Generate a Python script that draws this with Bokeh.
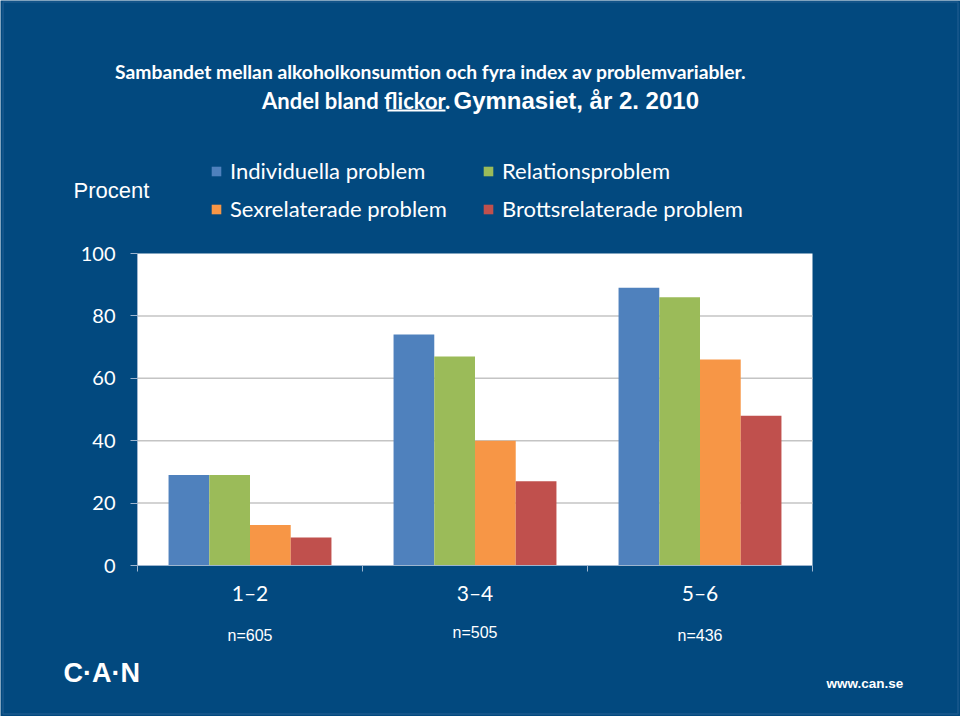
from bokeh.plotting import figure
from bokeh.models import (ColumnDataSource, Range1d, FixedTicker, Label, Legend,
                          LegendItem, BoxAnnotation, LinearAxis)
from bokeh.transform import dodge
from bokeh.embed import file_html
from bokeh.resources import INLINE

# ---- data ----
categories = ["1–2", "3–4", "5–6"]
n_labels = ["n=605", "n=505", "n=436"]
series_names = ["Individuella problem", "Relationsproblem",
                "Sexrelaterade problem", "Brottsrelaterade problem"]
individuella = [29, 74, 89]
relations = [29, 67, 86]
sexrelaterade = [13, 40, 66]
brottsrelaterade = [9, 27, 48]
y_ticks = [0, 20, 40, 60, 80, 100]

# ---- style / layout ----
colors = ["#4f81bd", "#9bbb59", "#f79646", "#c0504d"]
BG = "#02497f"
AXIS = "#9db5cf"
W, H = 960, 716
PL, PR, PT, PB = 137, 812, 253, 565       # white plot area in pixels
ncat = len(categories)
xpx = (PR - PL) / ncat                      # px per category
ypx = (PB - PT) / (y_ticks[-1] - y_ticks[0])

x_range = Range1d(-PL / xpx, (W - PL) / xpx)
y_range = Range1d(-(H - PB) / ypx, y_ticks[-1] + PT / ypx)

centers = [i + 0.5 for i in range(ncat)]
source = ColumnDataSource(dict(x=centers, ind=individuella, rel=relations,
                               sex=sexrelaterade, bro=brottsrelaterade))

p = figure(width=W, height=H, x_range=x_range, y_range=y_range,
           output_backend="svg", toolbar_location=None,
           x_axis_location=None, y_axis_location=None,
           min_border=0, min_border_left=0, min_border_right=0,
           min_border_top=0, min_border_bottom=0)
p.background_fill_color = BG
p.border_fill_color = BG
p.outline_line_color = None
p.xgrid.visible = False
p.ygrid.visible = False

# thin light frame around the slide
p.add_layout(BoxAnnotation(left=2.5, right=W - 2.5, bottom=2.5, top=H - 1.5,
                           left_units="screen", right_units="screen",
                           bottom_units="screen", top_units="screen",
                           fill_alpha=0, line_color="#4f7fae", line_width=1.5,
                           level="underlay"))

# white plot area
p.quad(left=0, right=ncat, bottom=y_ticks[0], top=y_ticks[-1],
       fill_color="white", line_color=None)
# horizontal grid lines at the inner ticks
p.segment(x0=[0] * (len(y_ticks) - 2), x1=[ncat] * (len(y_ticks) - 2),
          y0=y_ticks[1:-1], y1=y_ticks[1:-1], line_color="#c4c4c4", line_width=1.5)

bw = 0.181
fields = ["ind", "rel", "sex", "bro"]
renderers = []
for k, f in enumerate(fields):
    r = p.vbar(x=dodge("x", (k - 1.5) * bw, range=p.x_range), top=f, width=bw,
               source=source, fill_color=colors[k], line_color=None)
    renderers.append(r)

# y axis
yaxis = LinearAxis(fixed_location=0, bounds=(y_ticks[0], y_ticks[-1]),
                   ticker=FixedTicker(ticks=y_ticks, minor_ticks=[]))
yaxis.major_label_text_font = "Lato"
yaxis.major_label_text_font_size = "20px"
yaxis.major_label_text_color = "white"
yaxis.major_tick_out = 7
yaxis.major_tick_in = 0
yaxis.minor_tick_out = 0
yaxis.axis_line_color = AXIS
yaxis.major_tick_line_color = AXIS
yaxis.major_label_standoff = 15
p.add_layout(yaxis, "left")

# x axis (labels at centres, ticks at category boundaries)
xaxis = LinearAxis(fixed_location=y_ticks[0], bounds=(0, ncat),
                   ticker=FixedTicker(ticks=centers, minor_ticks=list(range(ncat + 1))))
xaxis.major_label_overrides = {c: lab for c, lab in zip(centers, categories)}
xaxis.major_label_text_font = "Lato"
xaxis.major_label_text_font_size = "21px"
xaxis.major_label_text_color = "white"
xaxis.major_tick_out = 0
xaxis.major_tick_in = 0
xaxis.minor_tick_out = 6
xaxis.minor_tick_in = 0
xaxis.minor_tick_line_color = AXIS
xaxis.axis_line_color = AXIS
xaxis.major_label_standoff = 8
p.add_layout(xaxis, "below")

# texts (screen px from bottom-left of the canvas)
def lab(text, px, py, font="Lato", size="20px", style="normal", align="left"):
    p.add_layout(Label(x=px, y=H - py, x_units="screen", y_units="screen", text=text,
                       text_font=font, text_font_size=size, text_font_style=style,
                       text_color="white", text_align=align, text_baseline="middle"))

lab("Sambandet mellan alkoholkonsumtion och fyra index av problemvariabler.",
    430, 71, size="19.3px", style="bold", align="center")
lab("Andel bland flickor. ", 455, 100, size="22px", style="bold", align="right")
lab("Gymnasiet, år 2. 2010", 453, 100, font="Liberation Sans", size="24px",
    style="bold", align="left")
p.add_layout(BoxAnnotation(left=387, right=445, bottom=H - 111, top=H - 109,
                           left_units="screen", right_units="screen",
                           bottom_units="screen", top_units="screen",
                           fill_color="white", fill_alpha=1, line_alpha=0))
lab("Procent", 111, 190, font="Liberation Sans", size="22px", align="center")
lab("C·A·N", 63, 672, font="Liberation Sans", size="27px", style="bold")
lab("www.can.se", 826, 683, font="Liberation Sans", size="13.5px", style="bold")

for c, t, py in zip(centers, n_labels, [635, 632, 635]):
    p.add_layout(Label(x=c, y=H - py, x_units="data", y_units="screen", text=t,
                       text_font="Liberation Sans", text_font_size="16px",
                       text_color="white", text_align="center", text_baseline="middle"))

# legends (two columns)
def make_legend(items, loc):
    lg = Legend(items=items, location=loc, background_fill_alpha=0,
                border_line_color=None, padding=0, margin=0,
                glyph_width=12, glyph_height=12, label_standoff=8,
                label_text_color="white", label_text_font="Lato",
                label_text_font_size="22px", label_height=26, spacing=11)
    p.add_layout(lg)

make_legend([LegendItem(label=series_names[0], renderers=[renderers[0]]),
             LegendItem(label=series_names[2], renderers=[renderers[2]])], (210, H - 222))
make_legend([LegendItem(label=series_names[1], renderers=[renderers[1]]),
             LegendItem(label=series_names[3], renderers=[renderers[3]])], (482, H - 222))

html = file_html(p, INLINE, title="CAN")
html = html.replace("<body>", '<body style="background:%s">' % BG, 1)
open("out.html", "w").write(html)
